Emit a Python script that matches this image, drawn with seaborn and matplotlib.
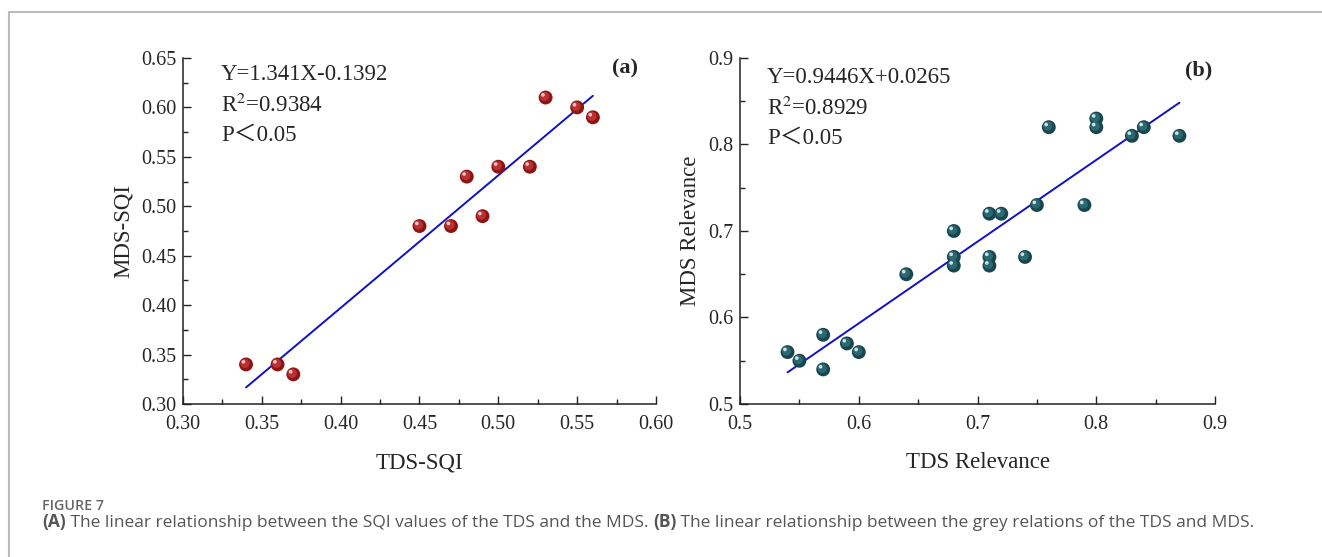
import numpy as np
import pandas as pd
import seaborn as sns
import matplotlib
matplotlib.use("Agg")
import matplotlib.pyplot as plt
from matplotlib.lines import Line2D
from matplotlib.transforms import offset_copy

# dados
tds_sqi = [0.34, 0.36, 0.37, 0.45, 0.47, 0.48, 0.49, 0.50, 0.52, 0.53, 0.55, 0.56]
mds_sqi = [0.34, 0.34, 0.33, 0.48, 0.48, 0.53, 0.49, 0.54, 0.54, 0.61, 0.60, 0.59]

tds_rel = [0.54, 0.55, 0.57, 0.57, 0.59, 0.60, 0.64, 0.68, 0.68, 0.68, 0.71, 0.72,
           0.71, 0.71, 0.74, 0.75, 0.76, 0.79, 0.80, 0.80, 0.83, 0.84, 0.87]
mds_rel = [0.56, 0.55, 0.58, 0.54, 0.57, 0.56, 0.65, 0.70, 0.67, 0.66, 0.72, 0.72,
           0.67, 0.66, 0.67, 0.73, 0.82, 0.73, 0.83, 0.82, 0.81, 0.82, 0.81]

# coeficientes da regressão (slope, intercept)
fit_a = (1.341, -0.1392)
fit_b = (0.9446, 0.0265)
eq_a = ["Y=1.341X-0.1392", "R$^2$=0.9384", "P＜0.05"]
eq_b = ["Y=0.9446X+0.0265", "R$^2$=0.8929", "P＜0.05"]

sns.set_style("ticks")
plt.rcParams["font.family"] = ["Liberation Serif", "Noto Sans CJK SC"]
plt.rcParams["mathtext.fontset"] = "stix"

fig = plt.figure(figsize=(13.22, 5.57), dpi=100)
ax1 = fig.add_axes([0.1384, 0.2747, 0.3578, 0.6212])
ax2 = fig.add_axes([0.5598, 0.2747, 0.3593, 0.6212])


def painel(ax, x, y, fit, eq, tag, cores, xlab, ylab, lims, ticks, minor, fmt, tpos):
    df = pd.DataFrame({"x": x, "y": y})
    xs = np.array([min(x), max(x)])
    line = pd.DataFrame({"x": xs, "y": fit[0] * xs + fit[1]})
    sns.lineplot(data=line, x="x", y="y", ax=ax, color="#1010C8", lw=1.4, zorder=2)
    # esferas com brilho
    sns.scatterplot(data=df, x="x", y="y", ax=ax, s=100, color=cores[0],
                    edgecolor="none", zorder=3)
    sns.scatterplot(data=df, x="x", y="y", ax=ax, s=45, color=cores[1],
                    edgecolor="none", zorder=4,
                    transform=offset_copy(ax.transData, fig=fig, x=-0.8, y=0.8, units="points"))
    sns.scatterplot(data=df, x="x", y="y", ax=ax, s=7, color=cores[2],
                    edgecolor="none", zorder=5,
                    transform=offset_copy(ax.transData, fig=fig, x=-1.9, y=1.9, units="points"))
    ax.set_xlim(lims[0])
    ax.set_ylim(lims[1])
    ax.set_xticks(ticks[0])
    ax.set_yticks(ticks[1])
    ax.set_xticks(minor[0], minor=True)
    ax.set_yticks(minor[1], minor=True)
    ax.set_xticklabels([fmt % t for t in ticks[0]])
    ax.set_yticklabels([fmt % t for t in ticks[1]])
    ax.tick_params(which="major", direction="in", length=6, width=1, labelsize=14.5, color="#222222")
    ax.tick_params(which="minor", direction="in", length=3.5, width=1, color="#222222")
    ax.tick_params(axis="x", pad=8)
    ax.tick_params(axis="y", pad=5)
    for s in ["top", "right"]:
        ax.spines[s].set_visible(False)
    for s in ["left", "bottom"]:
        ax.spines[s].set_linewidth(1.1)
        ax.spines[s].set_color("#222222")
    ax.set_xlabel(xlab, fontsize=16.5, labelpad=13)
    ax.set_ylabel(ylab, fontsize=16.5, labelpad=5)
    for i, t in enumerate(eq):
        ax.text(tpos[0], tpos[1] - i * 0.088, t, transform=ax.transAxes,
                fontsize=16.5, va="center", ha="left")
    ax.text(tpos[2], tpos[3], tag, transform=ax.transAxes, fontsize=16,
            fontweight="bold", va="center", ha="center")


painel(ax1, tds_sqi, mds_sqi, fit_a, eq_a, "(a)", ("#8E1414", "#B83232", "#F2C4C4"),
       "TDS-SQI", "MDS-SQI", ((0.30, 0.60), (0.30, 0.65)),
       (np.arange(0.30, 0.601, 0.05), np.arange(0.30, 0.651, 0.05)),
       (np.arange(0.325, 0.60, 0.05), np.arange(0.325, 0.65, 0.05)), "%.2f",
       (0.08, 0.952, 0.934, 0.971))
painel(ax2, tds_rel, mds_rel, fit_b, eq_b, "(b)", ("#17464F", "#2C6872", "#C9E2E6"),
       "TDS Relevance", "MDS Relevance", ((0.5, 0.9), (0.5, 0.9)),
       (np.arange(0.5, 0.901, 0.1), np.arange(0.5, 0.901, 0.1)),
       (np.arange(0.55, 0.9, 0.1), np.arange(0.55, 0.9, 0.1)), "%.1f",
       (0.057, 0.943, 0.966, 0.965))

# moldura cinza da figura
fig.add_artist(Line2D([9 / 1322, 1], [1 - 12 / 557, 1 - 12 / 557], color="#BBBBBB", lw=1.5))
fig.add_artist(Line2D([9 / 1322, 9 / 1322], [0, 1 - 12 / 557], color="#BBBBBB", lw=1.5))

# legenda
cap = ["Open Sans", "DejaVu Sans"]
fig.text(42 / 1322, 1 - 510 / 557, "FIGURE 7", fontsize=10.3, color="#666666",
         family=cap, fontweight="semibold", va="baseline")
y_cap = 1 - 527 / 557
pecas = [("(A)", "bold"),
         (" The linear relationship between the SQI values of the TDS and the MDS. ", "normal"),
         ("(B)", "bold"),
         (" The linear relationship between the grey relations of the TDS and MDS.", "normal")]
x0 = 42 / 1322
for txt, w in pecas:
    t = fig.text(x0, y_cap, txt, fontsize=12.5, color="#555555", family=cap,
                 fontweight=w, va="baseline")
    fig.canvas.draw()
    bb = t.get_window_extent()
    x0 = bb.x1 / fig.bbox.width

fig.savefig("out.png", dpi=100)
